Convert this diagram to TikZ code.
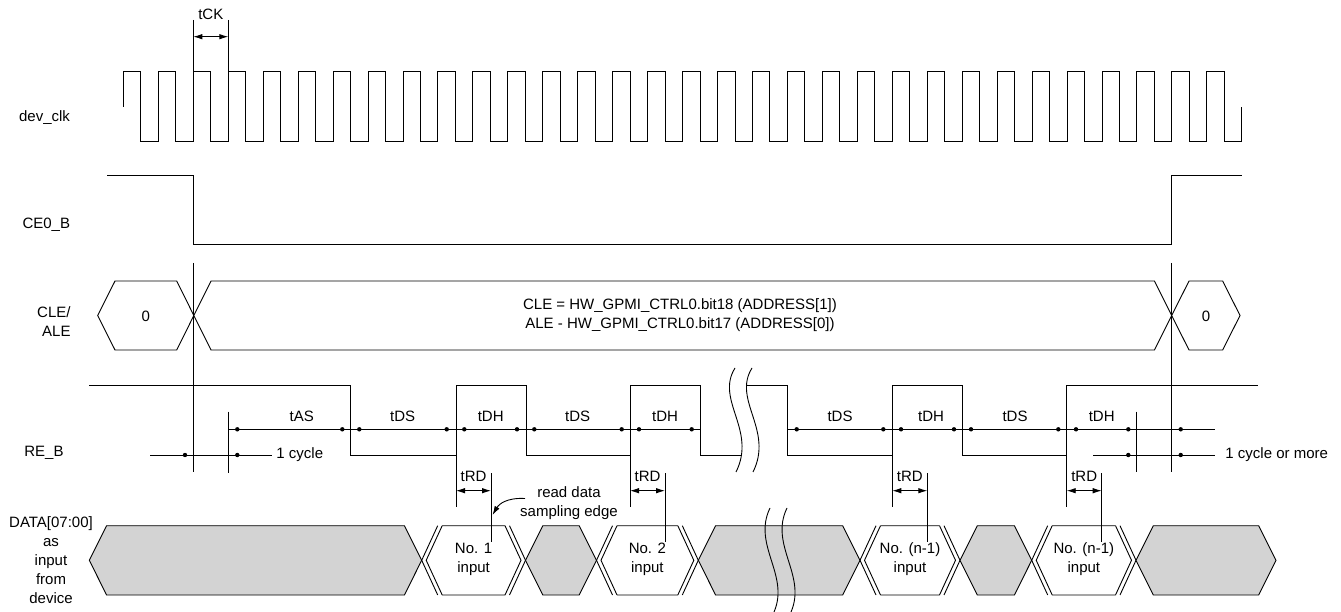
\documentclass[tikz,border=0pt]{standalone}
\usepackage{fontspec}
\setmainfont{Liberation Sans}
\usepackage{xcolor}
\usetikzlibrary{arrows.meta}
\definecolor{busgrey}{RGB}{211,211,211}
% grey (don't care) bus segment between two crossing points
\newcommand{\greybus}[2]{%
  \filldraw[fill=busgrey] (#1,560.3) -- (#1+17.3,525.7) -- (#2-17.3,525.7)
    -- (#2,560.3) -- (#2-17.3,595) -- (#1+17.3,595) -- cycle;}
% valid data segment with doubled edges
\newcommand{\inbus}[4]{%
  \draw (#2+16,525.7) -- (#2,560.3) -- (#2+16,595)
        (#2+20.5,525.7) -- (#2+4.5,560.3) -- (#2+20.5,595)
        (#3-16,525.7) -- (#3,560.3) -- (#3-16,595)
        (#3-20.5,525.7) -- (#3-4.5,560.3) -- (#3-20.5,595)
        (#2+20.5,525.7) -- (#3-20.5,525.7)
        (#2+20.5,595) -- (#3-20.5,595);
  \node[align=center] (#1) at ({(#2+#3)/2},559.5) {#4\\input};}

\begin{document}
\begin{tikzpicture}[x=1pt,y=-1pt,font=\fontsize{15}{19}\selectfont,
  >={Latex[length=9pt,width=5.5pt]},line width=0.9pt]
\useasboundingbox (0,0) rectangle (1341,612);

% signal names
\node (clk) at (44.5,118) {dev\_clk};
\node (ce) at (46.3,224.5) {CE0\_B};
\node[align=right,anchor=east,inner sep=0pt] (cle) at (71,321.5) {CLE/\\ALE};
\node (re) at (44,452.5) {RE\_B};
\node[align=center] (data) at (51,560) {DATA[07:00]\\as\\input\\from\\device};

% dev_clk
\draw (123.35,107) -- (123.35,71)
  \foreach \k in {1,...,31} { -- ++(17.475,0) -- ++(0,70) -- ++(17.475,0) -- ++(0,-70) }
  -- ++(17.475,0) -- ++(0,70) -- ++(17.475,0) -- ++(0,-34);
\draw (193.3,20) -- (193.3,71) (228.3,20) -- (228.3,71);
\coordinate (cka) at (193.3,36.7);
\coordinate (ckb) at (228.3,36.7);
\draw[<->] (cka) -- (ckb);
\node (tck) at (210.8,14.5) {tCK};

% CE0_B
\draw (107,175.7) -- (193.3,175.7) -- (193.3,244) -- (1171.7,244)
  -- (1171.7,175.7) -- (1241.7,175.7);
\draw (193.3,263) -- (193.3,471.7) (1171.7,263) -- (1171.7,471.7);

% CLE/ALE
\draw (97.7,315.5) -- (115,281) -- (176.7,281) -- (211,350) -- (1154.4,350)
  -- (1189,281) -- (1222.7,281) -- (1240,315.5) -- (1222.7,350) -- (1189,350)
  -- (1154.4,281) -- (211,281) -- (176.7,350) -- (115,350) -- cycle;
\node (cle0) at (145.7,316) {0};
\node (cle1) at (1206,316) {0};
\node[align=center] (cletxt) at (680,315)
  {CLE = HW\_GPMI\_CTRL0.bit18 (ADDRESS[1])\\ALE - HW\_GPMI\_CTRL0.bit17 (ADDRESS[0])};

% RE_B
\draw (89,385.7) -- (350.7,385.7) -- (350.7,455) -- (456,455) -- (456,385.7)
  -- (526,385.7) -- (526,455) -- (630,455) -- (630,385.7) -- (700,385.7)
  -- (700,455) -- (741.5,455);
\draw (746.5,385.7) -- (787.7,385.7) -- (787.7,455) -- (892.3,455) -- (892.3,385.7)
  -- (962.3,385.7) -- (962.3,455) -- (1066.7,455) -- (1066.7,385.7) -- (1258.3,385.7);
\foreach \dx in {0,17}
  \draw (735+\dx,368) .. controls (715+\dx,400) and (757+\dx,430) .. (736+\dx,472);

% timing on RE_B
\draw (228.3,429.3) -- (700,429.3) (787.7,429.3) -- (1215,429.3);
\draw (150,455) -- (271.7,455) (1093.3,455) -- (1215,455);
\draw (228.3,411.7) -- (228.3,472.7) (1136.7,411.7) -- (1136.7,471.7);
\foreach \x in {237.3,342.3,359.3,446.7,464.3,517,534.3,621.7,639,691.7,
  796.7,883.3,901,954,971,1058.3,1076,1128.3,1180.7}
  \fill (\x,429.3) circle (2.2);
\foreach \x in {185,237.3,1128.3,1180.7}
  \fill (\x,455) circle (2.2);
\foreach \x/\t [count=\i] in {301.7/tAS,402.7/tDS,490.7/tDH,577.7/tDS,665/tDH,
  840/tDS,931/tDH,1015/tDS,1101.7/tDH}
  \node (dim\i) at (\x,416) {\t};
\node[anchor=west,inner sep=0pt] (cyc1) at (276,455) {1 cycle};
\node[anchor=west,inner sep=0pt] (cyc2) at (1225,455) {1 cycle or more};

% DATA[07:00]
\greybus{89.3}{421.7}
\inbus{in1}{421.7}{525.5}{No. 1}
\greybus{525.5}{596.5}
\inbus{in2}{596.5}{698.3}{No. 2}
\greybus{698.3}{860}
\inbus{in3}{860}{960}{No. (n-1)}
\greybus{960}{1031.7}
\inbus{in4}{1031.7}{1136}{No. (n-1)}
\greybus{1136}{1276}
\foreach \dx in {0,17}
  \draw (770+\dx,508) .. controls (752+\dx,545) and (790+\dx,575) .. (774+\dx,612);

% tRD
\foreach \x [count=\i] in {456,630,892.3,1066.7} {
  \draw (\x,455) -- (\x,506.7) (\x+35,473) -- (\x+35,541.7);
  \coordinate (rda\i) at (\x,490.7);
  \coordinate (rdb\i) at (\x+35,490.7);
  \draw[<->] (rda\i) -- (rdb\i);
  \node (trd\i) at (\x+17.5,476) {tRD};
}
\node[align=center] (rdlabel) at (569,503.5) {read data\\sampling edge};
\coordinate (rdfrom) at (525,498.5);
\coordinate (rdto) at (492.5,515);
\draw[->] (rdfrom) .. controls (507,497.5) and (499,504) .. (rdto);
\end{tikzpicture}
\end{document}
